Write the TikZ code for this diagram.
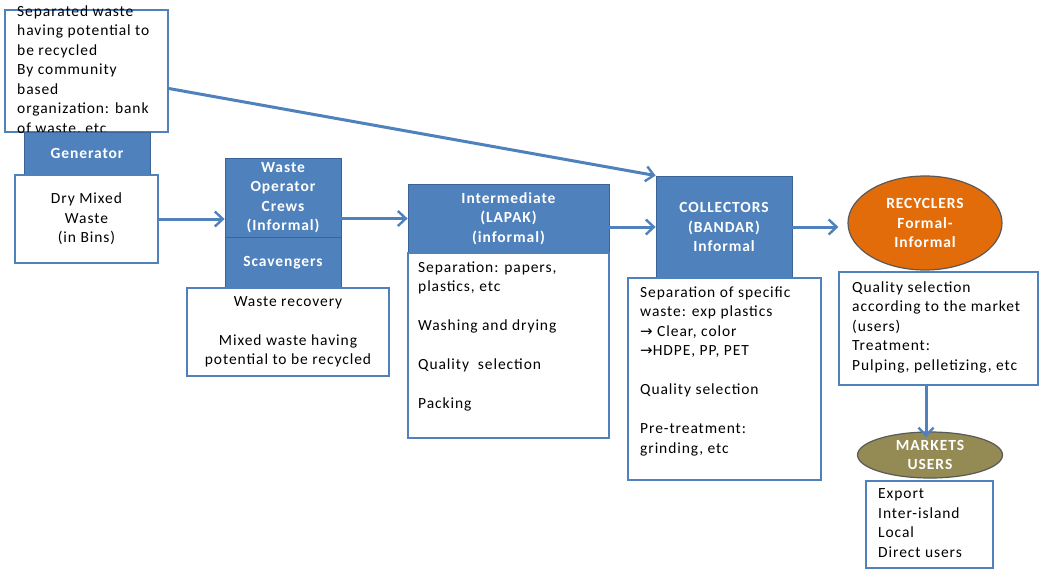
\documentclass[tikz,border=0pt]{standalone}
\usepackage{fontspec}
\setmainfont{Carlito}[LetterSpace=6]
\newfontfamily\arrowfont{DejaVu Sans}
\usetikzlibrary{arrows.meta,shapes.geometric}
\definecolor{flowblue}{HTML}{4F81BD}
\definecolor{flowblueline}{HTML}{3B6496}
\definecolor{recycorange}{HTML}{E36C0A}
\definecolor{marketolive}{HTML}{948A54}
\newcommand{\ra}{{\arrowfont\fontsize{15}{19.5}\selectfont →}}
\begin{document}
\begin{tikzpicture}[x=1pt,y=-1pt,
  basefont/.style={font=\fontsize{15.5}{19.5}\selectfont},
  bluebox/.style={draw=flowblueline, line width=0.8pt, fill=flowblue, text=white,
    font=\fontsize{15.5}{19.5}\selectfont\bfseries, align=center, inner sep=0pt},
  whitebox/.style={draw=flowblue, line width=1.3pt, fill=white, basefont,
    align=center, inner sep=0pt},
  bodytext/.style={basefont, inner sep=0pt, anchor=north west, align=left},
  blob/.style={ellipse, line width=1.2pt, text=white, inner sep=0pt,
    font=\fontsize{15.5}{19.5}\selectfont\bfseries, align=center},
  flow/.style={draw=flowblue, line width=3pt,
    -{Straight Barb[length=8pt,width=15pt,line width=2.4pt]}}]
\useasboundingbox[fill=white] (0,0) rectangle (1040,570);

% community-based separation note
\node[whitebox, minimum width=163pt, minimum height=122pt] (note) at (86.5,71) {};
\node[bodytext] (notetext) at (17,5.5) {Separated waste\\having potential to\\be recycled\\By community\\based\\organization: bank\\of waste, etc};

% generator column
\node[bluebox, minimum width=126pt, minimum height=43pt] (gen) at (87,153.5) {Generator};
\node[whitebox, minimum width=143pt, minimum height=88pt] (dry) at (86.5,219) {Dry Mixed\\Waste\\(in Bins)};

% waste operator crews / scavengers
\node[bluebox, minimum width=116pt, minimum height=79pt] (woc) at (283,197.5) {Waste\\Operator\\Crews\\(Informal)};
\node[bluebox, minimum width=116pt, minimum height=51pt] (scav) at (283,262.5) {Scavengers};
\node[whitebox, minimum width=202pt, minimum height=88pt] (wrec) at (288,332) {Waste recovery\\[19.5pt]Mixed waste having\\potential to be recycled};

% intermediate (lapak)
\node[bluebox, minimum width=201pt, minimum height=69pt] (inter) at (508.5,218.5) {Intermediate\\(LAPAK)\\(informal)};
\node[whitebox, minimum width=201pt, minimum height=185pt] (interd) at (508.5,345.5) {};
\node[bodytext] (intertext) at (418,261.5) {Separation: papers,\\plastics, etc\\[19.5pt]Washing and drying\\[19.5pt]Quality\ \ selection\\[19.5pt]Packing};

% collectors (bandar)
\node[bluebox, minimum width=136pt, minimum height=102pt] (coll) at (724,227) {COLLECTORS\\(BANDAR)\\Informal};
\node[whitebox, minimum width=193pt, minimum height=202pt] (colld) at (724.5,379) {};
\node[bodytext] (colltext) at (640,286.5) {Separation of specific\\waste: exp plastics\\\ra\ Clear, color\\\ra HDPE, PP, PET\\[19.5pt]Quality selection\\[19.5pt]Pre-treatment:\\grinding, etc};

% recyclers
\node[blob, draw=black!65, fill=recycorange, minimum width=154pt, minimum height=94pt] (recyc) at (925,223) {RECYCLERS\\Formal-\\Informal};
\node[whitebox, minimum width=199pt, minimum height=113pt] (recd) at (938.5,328.5) {};
\node[bodytext] (recyctext) at (852,281.5) {Quality selection\\according to the market\\(users)\\Treatment:\\Pulping, pelletizing, etc};

% markets
\node[blob, draw=black!65, fill=marketolive, minimum width=145pt, minimum height=46pt] (mkt) at (930,455) {MARKETS\\USERS};
\node[whitebox, minimum width=127pt, minimum height=87pt] (mktd) at (929.5,524.5) {};
\node[bodytext] (mkttext) at (878,488.5) {Export\\Inter-island\\Local\\Direct users};

% flows
\draw[flow] (dry.east) -- (dry.east -| woc.west);
\draw[flow] (inter.west -| woc.east) -- (inter.west);
\draw[flow] (coll.west -| inter.east) -- (coll.west);
\draw[flow, shorten >=9pt] (coll.east) -- (coll.east -| recyc.west);
\draw[flow] ([xshift=-4pt]recd.south -| mkt.north) -- ([xshift=-4pt,yshift=-6pt]mkt.north);
\draw[flow] (note.-12) -- (coll.north west);
\end{tikzpicture}
\end{document}
